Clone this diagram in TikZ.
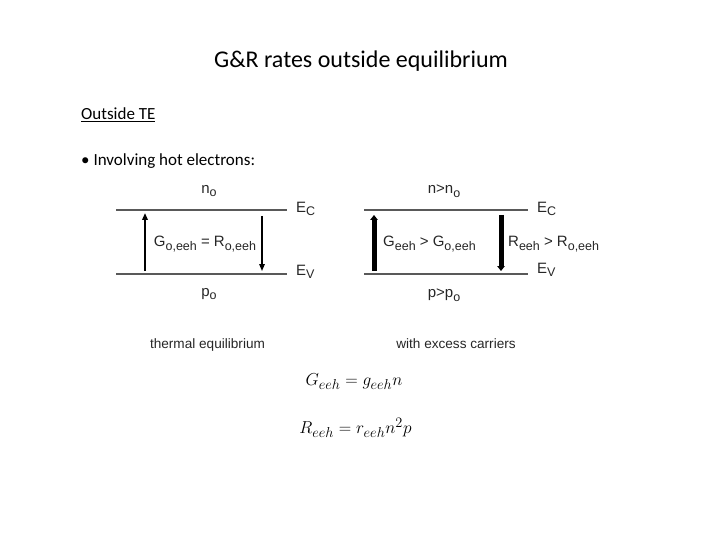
\documentclass[tikz,border=0pt]{standalone}
\usepackage{fontspec}
\setmainfont{Carlito}
\newfontfamily\arialfont{Liberation Sans}
\usetikzlibrary{arrows.meta,positioning}
% lowered index, nearly as large as the letter
\newcommand\lowsub[1]{\raisebox{-0.45ex}{\fontsize{12.5}{14}\selectfont #1}}

\begin{document}
\begin{tikzpicture}[
        x=1pt, y=-1pt,
        level/.style={draw=black!65, line width=1.4pt},
        rate/.style={-{Triangle[length=7pt,width=5.5pt]}, line width=1.8pt},
        bigrate/.style={-{Triangle[length=5pt,width=7.5pt]}, line width=5pt},
        lbl/.style={font=\arialfont\fontsize{15}{18}\selectfont, inner sep=1pt, text=black!85},
        caption/.style={font=\arialfont\fontsize{13.6}{16}\selectfont, inner sep=1pt, anchor=base, text=black!85}
    ]
        \useasboundingbox (0,0) rectangle (720,540);

        % heading and text
        \node[font=\fontsize{24}{28}\selectfont] (title) at (361,61) {G\&R rates outside equilibrium};
        \node[anchor=west, font=\fontsize{17}{20}\selectfont, inner sep=0pt] (sub) at (81,115) {\underline{Outside TE}};
        \node[anchor=west, font=\fontsize{17}{20}\selectfont, inner sep=0pt] (bul) at (81,161) {\textbullet\ Involving hot electrons:};

        % thermal equilibrium
        \coordinate (cl) at (116,210); \coordinate (cr) at (287,210);
        \coordinate (vl) at (116,274); \coordinate (vr) at (287,274);
        \draw[level] (cl) -- (cr);
        \draw[level] (vl) -- (vr);
        \node[lbl, anchor=west] (ec) at (295,209) {E\lowsub{C}};
        \node[lbl, anchor=west] (ev) at (295,272) {E\lowsub{V}};
        \node[lbl] (no) at (209,191) {n\lowsub{o}};
        \node[lbl] (po) at (209,294) {p\lowsub{o}};
        \coordinate (gu0) at (145,271); \coordinate (gu1) at (145,213);
        \coordinate (rd0) at (262,216); \coordinate (rd1) at (262,271);
        \draw[rate] (gu0) -- (gu1);
        \draw[rate, line width=1.4pt] (rd0) -- (rd1);
        \node[lbl] (eq) at (205,244) {G\lowsub{o,eeh} = R\lowsub{o,eeh}};
        \node[caption] (te) at (207.5,348) {thermal equilibrium};

        % with excess carriers
        \coordinate (cl2) at (364,210); \coordinate (cr2) at (528,210);
        \coordinate (vl2) at (364,274); \coordinate (vr2) at (528,274);
        \draw[level] (cl2) -- (cr2);
        \draw[level] (vl2) -- (vr2);
        \node[lbl, anchor=west] (ec2) at (536,209) {E\lowsub{C}};
        \node[lbl, anchor=west] (ev2) at (536,270) {E\lowsub{V}};
        \node[lbl] (n) at (444,191) {n>n\lowsub{o}};
        \node[lbl] (p) at (444,295) {p>p\lowsub{o}};
        \coordinate (gu2) at (374,271); \coordinate (gu3) at (374,215);
        \coordinate (rd2) at (501,215); \coordinate (rd3) at (501,271);
        \draw[bigrate] (gu2) -- (gu3);
        \draw[bigrate] (rd2) -- (rd3);
        \node[lbl, anchor=west] (g) at (382,244) {G\lowsub{eeh} > G\lowsub{o,eeh}};
        \node[lbl, anchor=west] (r) at (507,244) {R\lowsub{eeh} > R\lowsub{o,eeh}};
        \node[caption] (xc) at (456,348) {with excess carriers};

        % rate equations
        \node[font=\fontsize{19}{22}\selectfont] (geq) at (354,382) {$G_{eeh}=g_{eeh}n$};
        \node[font=\fontsize{19}{22}\selectfont] (req) at (355.5,428) {$R_{eeh}=r_{eeh}n^2p$};
\end{tikzpicture}
\end{document}
